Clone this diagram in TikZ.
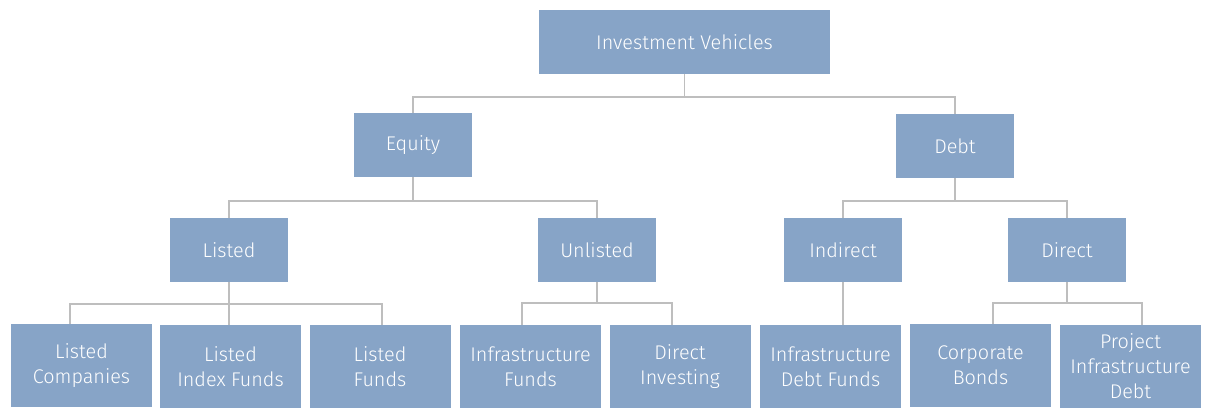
\documentclass[tikz,border=0pt]{standalone}
\usepackage{fontspec}
\setmainfont{Fira Sans}[UprightFont=* Light]
\definecolor{boxblue}{RGB}{135,164,199}
\definecolor{linkgray}{RGB}{190,190,190}
\begin{document}
\begin{tikzpicture}[x=1pt,y=-1pt,
  box/.style={fill=boxblue,text=white,font=\fontsize{19.8}{25}\selectfont,align=center,inner sep=0pt},
  mid/.style={box,minimum width=118pt,minimum height=64pt},
  leaf/.style={box,minimum width=141pt,minimum height=83pt},
  link/.style={draw=linkgray,line width=1.5pt}]
\useasboundingbox (0,0) rectangle (1206,407);
% top levels
\node[box,minimum width=291pt,minimum height=64pt] (root) at (684.5,42) {Investment Vehicles};
\node[mid] (equity) at (413,145) {Equity};
\node[mid] (debt) at (955,146) {Debt};
\node[mid] (listed) at (229,250) {Listed};
\node[mid] (unlisted) at (597,250) {Unlisted};
\node[mid] (indirect) at (843,250) {Indirect};
\node[mid] (direct) at (1067,250) {Direct};
% leaves
\node[leaf] (lc) at (81.5,365.5) {Listed\\Companies};
\node[leaf] (lif) at (230.5,366.5) {Listed\\Index Funds};
\node[leaf] (lf) at (380,366.5) {Listed\\Funds};
\node[leaf] (inf) at (530.5,366.5) {Infrastructure\\Funds};
\node[leaf] (di) at (680,366.5) {Direct\\Investing};
\node[leaf] (idf) at (830.5,366.5) {Infrastructure\\Debt Funds};
\node[leaf] (cb) at (980.5,365.5) {Corporate\\Bonds};
\node[leaf] (pid) at (1130.5,366.5) {Project\\Infrastructure\\Debt};
% connectors
\draw[link] (root.south) -- ++(0,23) -| (equity.north);
\draw[link] (root.south) -- ++(0,23) -| (debt.north);
\draw[link] (equity.south) -- ++(0,24) -| (listed.north);
\draw[link] (equity.south) -- ++(0,24) -| (unlisted.north);
\draw[link] (debt.south) -- ++(0,23) -| (indirect.north);
\draw[link] (debt.south) -- ++(0,23) -| (direct.north);
\draw[link] (listed.south) -- ++(0,22) -| ([xshift=-11.5pt]lc.north);
\draw[link] (listed.south) -- (listed.south |- lif.north);
\draw[link] (listed.south) -- ++(0,22) -| ([xshift=2pt]lf.north);
\draw[link] (unlisted.south) -- ++(0,21) -| ([xshift=-8.5pt]inf.north);
\draw[link] (unlisted.south) -- ++(0,21) -| ([xshift=-8pt]di.north);
\draw[link] (indirect.south) -- (indirect.south |- idf.north);
\draw[link] (direct.south) -- ++(0,21) -| ([xshift=12.5pt]cb.north);
\draw[link] (direct.south) -- ++(0,21) -| ([xshift=11.5pt]pid.north);
\end{tikzpicture}
\end{document}
